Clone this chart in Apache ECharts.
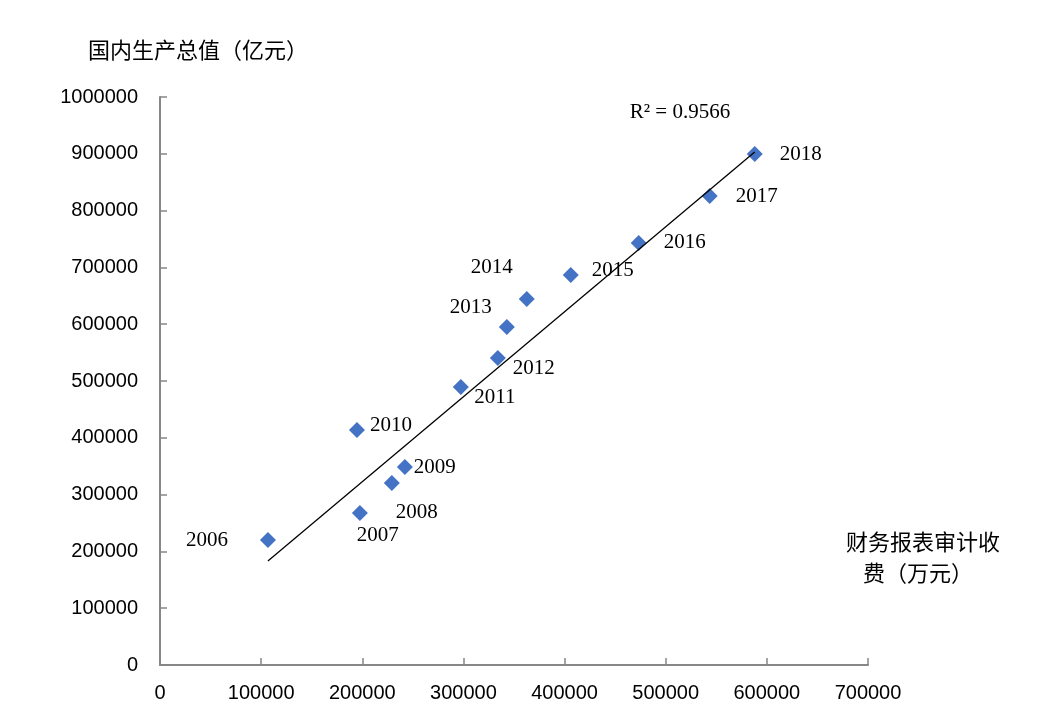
<!DOCTYPE html>
<html>
<head>
<meta charset="utf-8">
<script src="https://cdn.jsdelivr.net/npm/echarts@6/dist/echarts.min.js"></script>
<style>
html,body{margin:0;padding:0;background:#fff;}
#main{width:1044px;height:722px;}
</style>
</head>
<body>
<div id="main"></div>
<script>
// ---- data ----
var years = ['2006','2007','2008','2009','2010','2011','2012','2013','2014','2015','2016','2017','2018'];
var auditFees = [106700,197600,229200,242100,194700,297400,334000,342900,362600,406100,473300,543500,588000];
var gdp = [220000,267600,320400,348600,413700,489400,540500,595000,644400,686600,743000,825700,899600];
// trendline end values
var trendX = [106700, 588000];
var trendY = [183000, 903000];
var xTicks = [0,100000,200000,300000,400000,500000,600000,700000];
var yTicks = [0,100000,200000,300000,400000,500000,600000,700000,800000,900000,1000000];
var r2Text = 'R² = 0.9566';
var yTitle = '国内生产总值（亿元）';
var xTitle = ['财务报表审计收', '费（万元）'];

// label offsets (styling only)
var labelOffsets = [[-61,0],[18,22],[25,29],[30,0],[34,-5],[34,10],[36,10],[-36,-20],[-35,-31],[42,-5],[46,0],[47,0],[46,0]];

var trend = trendX.map(function(x,i){ return [x, trendY[i]]; });

var points = years.map(function(y,i){
  return {
    value:[auditFees[i], gdp[i]],
    name:y,
    label:{offset:labelOffsets[i]}
  };
});

var axisColor = '#878787';
var chart = echarts.init(document.getElementById('main'), null, {renderer:'canvas'});
chart.setOption({
  animation:false,
  backgroundColor:'#fff',
  grid:{left:160, right:176, top:97, bottom:57},
  xAxis:{
    type:'value', min:0, max:700000, interval:100000,
    axisLine:{show:true, onZero:false, lineStyle:{color:axisColor, width:2}},
    axisTick:{show:true, inside:true, length:7, lineStyle:{color:axisColor, width:1.5}},
    axisLabel:{color:'#000', fontFamily:'Liberation Sans', fontSize:20, margin:18, formatter:function(v){return String(v);}},
    splitLine:{show:false}
  },
  yAxis:{
    type:'value', min:0, max:1000000, interval:100000,
    axisLine:{show:true, onZero:false, lineStyle:{color:axisColor, width:2}},
    axisTick:{show:true, inside:true, length:7, lineStyle:{color:axisColor, width:1.5}},
    axisLabel:{color:'#000', fontFamily:'Liberation Sans', fontSize:20, margin:22, formatter:function(v){return String(v);}},
    splitLine:{show:false}
  },
  series:[
    {
      type:'scatter',
      data:points,
      symbol:'diamond',
      symbolSize:16,
      itemStyle:{color:'#4472C4', opacity:1},
      label:{
        show:true, position:'inside',
        formatter:function(p){return p.name;},
        color:'#000', fontFamily:'Liberation Serif', fontSize:21
      },
      z:2
    },
    {
      type:'line',
      data:trend,
      symbol:'none',
      lineStyle:{color:'#000', width:1.3},
      z:3,
      silent:true
    }
  ],
  graphic:[
    {type:'text', style:{text:yTitle, x:198, y:50, fill:'#000', font:'22px "Noto Sans CJK SC"', align:'center', verticalAlign:'middle'}},
    {type:'text', style:{text:xTitle[0], x:923, y:542, fill:'#000', font:'22px "Noto Sans CJK SC"', align:'center', verticalAlign:'middle'}},
    {type:'text', style:{text:xTitle[1], x:918, y:573, fill:'#000', font:'22px "Noto Sans CJK SC"', align:'center', verticalAlign:'middle'}},
    {type:'text', style:{text:r2Text, x:680, y:112, fill:'#000', font:'21px "Liberation Serif"', align:'center', verticalAlign:'middle'}}
  ]
});
</script>
</body>
</html>
